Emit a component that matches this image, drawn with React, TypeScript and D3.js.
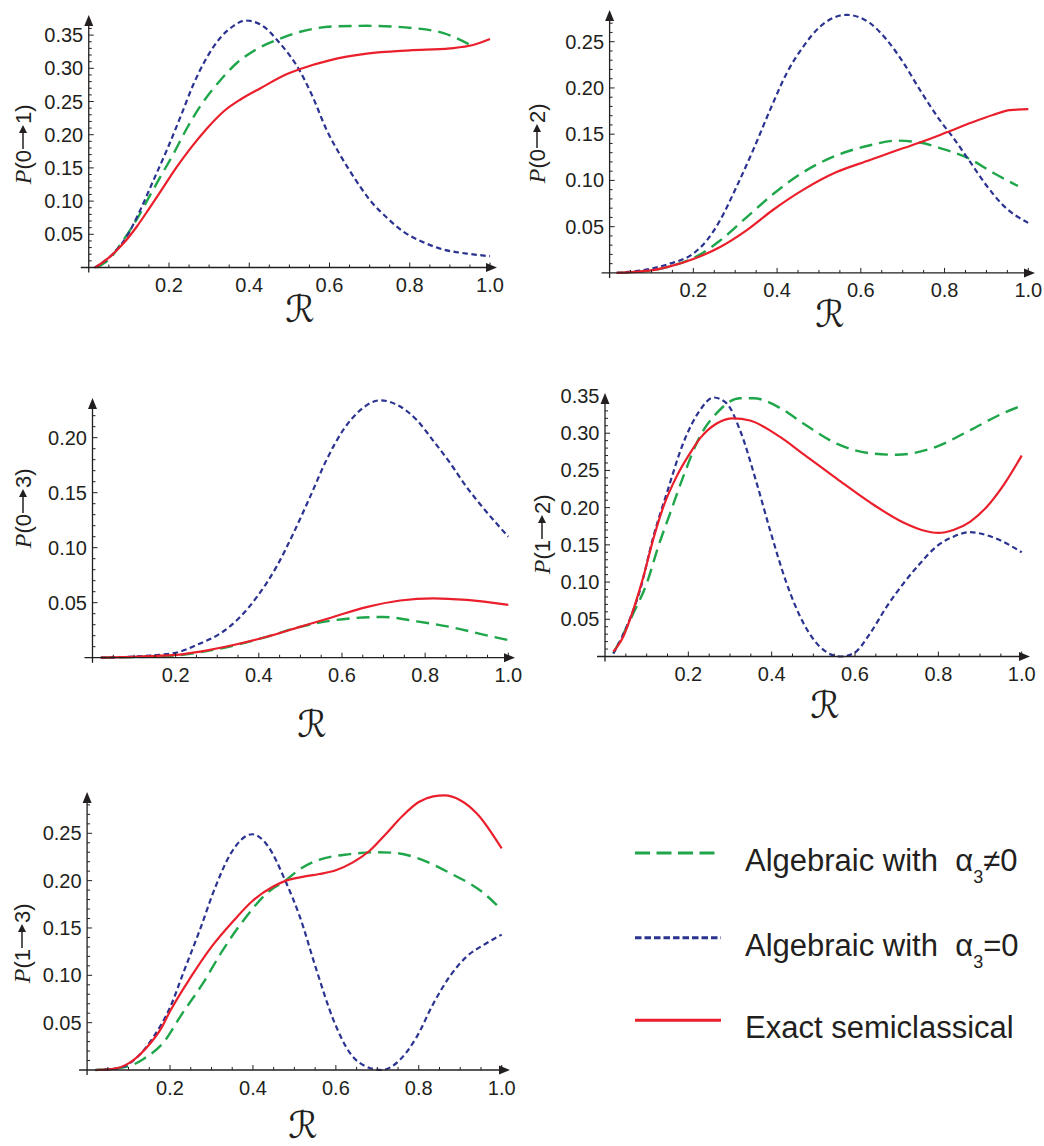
import React from 'react';
import * as d3 from 'd3';

type Pt = [number, number];

// tick values
const xTicks = [0.2, 0.4, 0.6, 0.8, 1.0];
const yTicks01 = [0.05, 0.1, 0.15, 0.2, 0.25, 0.3, 0.35];
const yTicks02 = [0.05, 0.1, 0.15, 0.2, 0.25];
const yTicks03 = [0.05, 0.1, 0.15, 0.2];
const yTicks12 = [0.05, 0.1, 0.15, 0.2, 0.25, 0.3, 0.35];
const yTicks13 = [0.05, 0.1, 0.15, 0.2, 0.25];

// P(0->1)
const p01Alg: Pt[] = [[0.02, 0], [0.0525, 0.0135], [0.086, 0.041], [0.123, 0.076], [0.153, 0.109], [0.178, 0.136], [0.211, 0.171], [0.244, 0.209], [0.278, 0.243], [0.328, 0.282], [0.369, 0.308], [0.419, 0.329], [0.47, 0.343], [0.527, 0.355], [0.61, 0.363], [0.693, 0.364], [0.817, 0.36], [0.884, 0.353], [0.958, 0.333]];
const p01Zero: Pt[] = [[0.015, 0], [0.061, 0.021], [0.094, 0.046], [0.128, 0.086], [0.161, 0.131], [0.194, 0.176], [0.228, 0.226], [0.261, 0.276], [0.294, 0.316], [0.328, 0.346], [0.361, 0.364], [0.39, 0.372], [0.428, 0.366], [0.473, 0.34], [0.527, 0.295], [0.556, 0.26], [0.593, 0.207], [0.626, 0.17], [0.664, 0.133], [0.7, 0.102], [0.743, 0.075], [0.784, 0.054], [0.834, 0.038], [0.884, 0.027], [0.942, 0.021], [1.0, 0.017]];
const p01Exact: Pt[] = [[0.016, 0], [0.0525, 0.016], [0.086, 0.036], [0.119, 0.061], [0.153, 0.091], [0.186, 0.121], [0.219, 0.151], [0.253, 0.179], [0.294, 0.209], [0.336, 0.235], [0.378, 0.253], [0.428, 0.27], [0.497, 0.292], [0.527, 0.299], [0.6, 0.312], [0.693, 0.322], [0.8, 0.327], [0.9, 0.33], [0.958, 0.335], [1.0, 0.344]];

// P(0->2)
const p02Alg: Pt[] = [[0.017, 0], [0.104, 0.003], [0.144, 0.007], [0.2, 0.016], [0.264, 0.035], [0.327, 0.06], [0.39, 0.085], [0.463, 0.109], [0.542, 0.127], [0.622, 0.138], [0.686, 0.143], [0.741, 0.141], [0.789, 0.135], [0.857, 0.124], [0.917, 0.108], [0.975, 0.094]];
const p02Zero: Pt[] = [[0.017, 0], [0.104, 0.005], [0.144, 0.01], [0.2, 0.021], [0.232, 0.035], [0.264, 0.057], [0.303, 0.093], [0.343, 0.133], [0.383, 0.176], [0.423, 0.216], [0.463, 0.245], [0.502, 0.266], [0.566, 0.279], [0.622, 0.27], [0.662, 0.252], [0.702, 0.227], [0.741, 0.198], [0.789, 0.165], [0.821, 0.146], [0.861, 0.12], [0.901, 0.094], [0.94, 0.073], [1.0, 0.054]];
const p02Exact: Pt[] = [[0.017, 0], [0.104, 0.003], [0.144, 0.007], [0.2, 0.015], [0.264, 0.028], [0.327, 0.046], [0.39, 0.068], [0.463, 0.09], [0.542, 0.109], [0.622, 0.122], [0.702, 0.135], [0.741, 0.141], [0.805, 0.152], [0.861, 0.162], [0.917, 0.171], [0.956, 0.176], [1.0, 0.177]];

// P(0->3)
const p03Alg: Pt[] = [[0.02, 0], [0.2, 0.002], [0.259, 0.005], [0.339, 0.011], [0.419, 0.019], [0.499, 0.028], [0.579, 0.034], [0.65, 0.0365], [0.7, 0.037], [0.78, 0.033], [0.86, 0.028], [0.94, 0.021], [1.0, 0.016]];
const p03Zero: Pt[] = [[0.02, 0], [0.138, 0.002], [0.2, 0.0045], [0.259, 0.013], [0.307, 0.022], [0.355, 0.037], [0.395, 0.055], [0.443, 0.083], [0.483, 0.113], [0.523, 0.146], [0.563, 0.18], [0.603, 0.207], [0.644, 0.225], [0.692, 0.234], [0.732, 0.23], [0.78, 0.216], [0.82, 0.197], [0.86, 0.177], [0.9, 0.155], [0.94, 0.136], [1.0, 0.11]];
const p03Exact: Pt[] = [[0.02, 0], [0.2, 0.0025], [0.259, 0.0055], [0.339, 0.0115], [0.419, 0.019], [0.499, 0.028], [0.579, 0.037], [0.659, 0.046], [0.74, 0.052], [0.82, 0.054], [0.9, 0.0525], [1.0, 0.048]];

// P(1->2)
const p12Alg: Pt[] = [[0.02, 0.004], [0.068, 0.058], [0.1, 0.098], [0.128, 0.148], [0.156, 0.192], [0.188, 0.242], [0.228, 0.296], [0.268, 0.327], [0.324, 0.347], [0.356, 0.347], [0.42, 0.334], [0.476, 0.313], [0.556, 0.286], [0.636, 0.273], [0.7, 0.271], [0.796, 0.282], [0.876, 0.304], [0.956, 0.327], [1.0, 0.337]];
const p12Zero: Pt[] = [[0.02, 0.004], [0.052, 0.04], [0.084, 0.089], [0.116, 0.161], [0.148, 0.219], [0.188, 0.287], [0.228, 0.331], [0.26, 0.348], [0.292, 0.34], [0.324, 0.304], [0.364, 0.233], [0.396, 0.17], [0.436, 0.098], [0.476, 0.045], [0.516, 0.013], [0.564, 0.0], [0.596, 0.004], [0.636, 0.031], [0.676, 0.067], [0.716, 0.098], [0.756, 0.125], [0.796, 0.148], [0.836, 0.161], [0.876, 0.167], [0.916, 0.163], [0.956, 0.154], [1.0, 0.14]];
const p12Exact: Pt[] = [[0.02, 0.0065], [0.044, 0.027], [0.068, 0.063], [0.092, 0.107], [0.116, 0.158], [0.14, 0.201], [0.172, 0.242], [0.204, 0.273], [0.228, 0.293], [0.268, 0.313], [0.308, 0.32], [0.348, 0.317], [0.42, 0.295], [0.476, 0.272], [0.556, 0.239], [0.636, 0.207], [0.716, 0.18], [0.76, 0.17], [0.8, 0.166], [0.836, 0.17], [0.876, 0.181], [0.916, 0.201], [0.956, 0.23], [1.0, 0.27]];

// P(1->3)
const p13Alg: Pt[] = [[0.02, 0], [0.1, 0.004], [0.137, 0.012], [0.186, 0.03], [0.227, 0.058], [0.28, 0.092], [0.325, 0.125], [0.377, 0.158], [0.437, 0.188], [0.478, 0.2], [0.513, 0.212], [0.553, 0.221], [0.634, 0.228], [0.7, 0.23], [0.75, 0.229], [0.795, 0.224], [0.875, 0.208], [0.956, 0.187], [1.0, 0.169]];
const p13Zero: Pt[] = [[0.02, 0], [0.077, 0.002], [0.122, 0.014], [0.16, 0.035], [0.2, 0.066], [0.235, 0.106], [0.272, 0.148], [0.31, 0.194], [0.347, 0.229], [0.398, 0.249], [0.437, 0.236], [0.478, 0.2], [0.513, 0.162], [0.553, 0.106], [0.594, 0.053], [0.634, 0.018], [0.674, 0.0035], [0.71, 0], [0.755, 0.011], [0.795, 0.035], [0.835, 0.07], [0.875, 0.099], [0.916, 0.12], [0.956, 0.132], [1.0, 0.143]];
const p13Exact: Pt[] = [[0.02, 0], [0.06, 0.001], [0.1, 0.007], [0.14, 0.022], [0.18, 0.045], [0.2, 0.062], [0.25, 0.098], [0.3, 0.13], [0.35, 0.156], [0.4, 0.179], [0.45, 0.194], [0.48, 0.2], [0.52, 0.204], [0.56, 0.207], [0.6, 0.211], [0.64, 0.219], [0.68, 0.231], [0.72, 0.249], [0.76, 0.268], [0.8, 0.283], [0.835, 0.289], [0.862, 0.29], [0.9, 0.285], [0.94, 0.271], [1.0, 0.234]];

const GREEN = '#1fa64a';
const BLUE = '#2b3390';
const RED = '#ea1f2b';
const INK = '#231f20';
const SANS = '"Liberation Sans", Arial, Helvetica, sans-serif';

const styles = {
  alg: { stroke: GREEN, width: 2.4, dash: '13,7' },
  zero: { stroke: BLUE, width: 2.2, dash: '5.5,3.5' },
  exact: { stroke: RED, width: 2.2, dash: undefined as string | undefined },
};

const panels = [
  { from: '0', to: '1', x0: 88.75, x1: 490, y0: 267.5, yRef: 0.35, yRefPx: 35.1, top: 15, right: 497, yTicks: yTicks01, ylab: [23, 143], xlab: [300, 322], alg: p01Alg, zero: p01Zero, exact: p01Exact },
  { from: '0', to: '2', x0: 609.6, x1: 1028.3, y0: 272.9, yRef: 0.25, yRefPx: 41.7, top: 10, right: 1035, yTicks: yTicks02, ylab: [537, 142], xlab: [830, 327], alg: p02Alg, zero: p02Zero, exact: p02Exact },
  { from: '0', to: '3', x0: 92.5, x1: 508.3, y0: 657.7, yRef: 0.2, yRefPx: 437.7, top: 398, right: 515, yTicks: yTicks03, ylab: [23, 507], xlab: [312, 737], alg: p03Alg, zero: p03Zero, exact: p03Exact },
  { from: '1', to: '2', x0: 605, x1: 1021.7, y0: 656.5, yRef: 0.35, yRefPx: 396, top: 393, right: 1030, yTicks: yTicks12, ylab: [542, 533], xlab: [825, 718], alg: p12Alg, zero: p12Zero, exact: p12Exact },
  { from: '1', to: '3', x0: 87.1, x1: 501.7, y0: 1070, yRef: 0.25, yRefPx: 833.3, top: 792, right: 510, yTicks: yTicks13, ylab: [22, 942], xlab: [303, 1138], alg: p13Alg, zero: p13Zero, exact: p13Exact },
];

function Panel({ p }: { p: typeof panels[number] }) {
  const x = d3.scaleLinear().domain([0, 1]).range([p.x0, p.x1]);
  const y = d3.scaleLinear().domain([0, p.yRef]).range([p.y0, p.yRefPx]);
  const line = d3.line<Pt>().x(d => x(d[0])).y(d => y(d[1])).curve(d3.curveMonotoneX);

  const xMinor = d3.range(1, 21).map(i => i * 0.05);
  const yMinor = d3.range(1, 60).map(i => i * 0.01).filter(v => y(v) > p.top + 8);

  return (
    <g>
      {/* curves */}
      {(['alg', 'zero', 'exact'] as const).map(k => (
        <path key={k} d={line(p[k]) || ''} fill="none" stroke={styles[k].stroke}
          strokeWidth={styles[k].width} strokeDasharray={styles[k].dash} />
      ))}
      {/* axes */}
      <line x1={p.x0 - 8} x2={p.right - 6} y1={p.y0} y2={p.y0} stroke={INK} strokeWidth={1.3} />
      <line x1={p.x0} x2={p.x0} y1={p.y0 + 5} y2={p.top + 6} stroke={INK} strokeWidth={1.3} />
      <path d={`M${p.right},${p.y0} L${p.right - 11},${p.y0 - 4.5} L${p.right - 11},${p.y0 + 4.5} Z`} fill={INK} />
      <path d={`M${p.x0},${p.top} L${p.x0 - 4.5},${p.top + 11} L${p.x0 + 4.5},${p.top + 11} Z`} fill={INK} />
      {xMinor.map(v => {
        const major = Math.abs(v * 5 - Math.round(v * 5)) < 1e-6;
        return <line key={v} x1={x(v)} x2={x(v)} y1={p.y0} y2={p.y0 - (major ? 5 : 3)} stroke={INK} strokeWidth={1} />;
      })}
      {yMinor.map(v => {
        const major = Math.abs(v * 20 - Math.round(v * 20)) < 1e-6;
        return <line key={v} x1={p.x0} x2={p.x0 + (major ? 5 : 3)} y1={y(v)} y2={y(v)} stroke={INK} strokeWidth={1} />;
      })}
      {xTicks.map(v => (
        <text key={v} x={x(v)} y={p.y0 + 24.5} textAnchor="middle" fontSize={20} fontFamily={SANS} fill={INK}>{v.toFixed(1)}</text>
      ))}
      {p.yTicks.map(v => (
        <text key={v} x={p.x0 - 5.5} y={y(v)} textAnchor="end" dominantBaseline="central" fontSize={20} fontFamily={SANS} fill={INK}>{v.toFixed(2)}</text>
      ))}
      {/* y label, rotated: P(i -> j) with a drawn arrow */}
      <g transform={`translate(${p.ylab[0]},${p.ylab[1]}) rotate(-90)`} fill={INK}>
        <text x={-7} y={8} textAnchor="end" fontSize={22} fontFamily={SANS}>
          <tspan fontFamily='"Liberation Serif", "DejaVu Serif", serif' fontStyle="italic" fontSize={24}>P</tspan>({p.from}
        </text>
        <line x1={-6} x2={12} y1={0} y2={0} stroke={INK} strokeWidth={1.5} />
        <path d="M18,0 L10,-4 L10,4 Z" />
        <text x={19} y={8} textAnchor="start" fontSize={22} fontFamily={SANS}>{p.to})</text>
      </g>
      <text x={p.xlab[0]} y={p.xlab[1]} textAnchor="middle" fontSize={37} fontFamily='"DejaVu Serif", "DejaVu Sans", serif' fill={INK}>ℛ</text>
    </g>
  );
}

const legendItems = [
  { key: 'alg' as const, text: 'Algebraic with\u00a0\u00a0α', sub: '3', tail: '≠0', y: 853 },
  { key: 'zero' as const, text: 'Algebraic with\u00a0\u00a0α', sub: '3', tail: '=0', y: 937.7 },
  { key: 'exact' as const, text: 'Exact semiclassical', sub: '', tail: '', y: 1020.3 },
];

export default function App() {
  return (
    <svg width={1044} height={1146} style={{ display: 'block', position: 'absolute', left: 0, top: 0 }}>
      <rect width={1044} height={1146} fill="#fff" />
      {panels.map((p, i) => <Panel key={i} p={p} />)}
      {legendItems.map(it => (
        <g key={it.key}>
          <line x1={635} x2={721} y1={it.y} y2={it.y} stroke={styles[it.key].stroke}
            strokeWidth={3} strokeDasharray={it.key === 'alg' ? '15,6.5' : it.key === 'zero' ? '6.5,3' : undefined} />
          <text x={745} y={it.y + 18} fontSize={31} fontFamily={SANS} fill={INK}>
            {it.text}
            {it.sub && <tspan fontSize={18} dy={12}>{it.sub}</tspan>}
            {it.tail && <tspan dy={-12}>{it.tail}</tspan>}
          </text>
        </g>
      ))}
    </svg>
  );
}
